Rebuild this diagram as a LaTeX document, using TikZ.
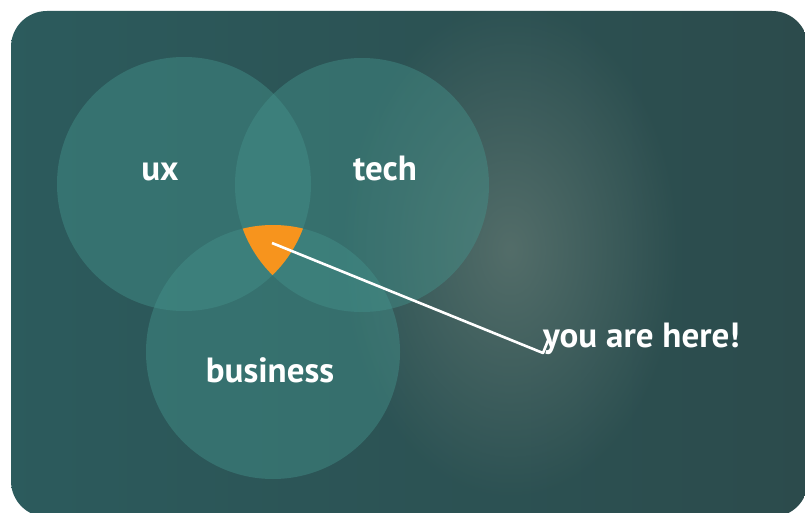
\documentclass[tikz,border=0pt]{standalone}
\usepackage{fontspec}
\setmainfont{PT Sans}
\usetikzlibrary{fadings}

\definecolor{bgleft}{HTML}{2C5B5D}
\definecolor{bgright}{HTML}{2C4B4C}
\definecolor{glow}{HTML}{536D69}
\definecolor{ring}{HTML}{44928B}
\definecolor{spot}{HTML}{F7941D}
\tikzfading[name=glowfade, inner color=transparent!0, outer color=transparent!100]
\tikzset{
  set/.style={circle, minimum size=254pt, inner sep=0pt, fill=ring, fill opacity=0.45},
  setlabel/.style={text=white, anchor=base, font=\bfseries\fontsize{35}{40}\selectfont},
}

\begin{document}
\begin{tikzpicture}[x=1pt,y=-1pt]
  \useasboundingbox (0,0) rectangle (805,513);
  \begin{scope}
    \clip[rounded corners=36pt] (11,11) rectangle (808,517);
    \shade[left color=bgleft, right color=bgright] (0,0) rectangle (808,517);
    \fill[glow, path fading=glowfade] (510,250) ellipse (170pt and 250pt);
  \end{scope}

  \node[set] (ux) at (184,184) {};
  \node[set] (tech) at (362,185) {};
  \node[set] (biz) at (273,352) {};
  \begin{scope}
    \clip (ux.center) circle (127pt);
    \clip (tech.center) circle (127pt);
    \fill[spot] (biz.center) circle (127pt);
  \end{scope}

  \node[setlabel] (uxtext) at (160,180) {ux};
  \node[setlabel] (techtext) at (385,180) {tech};
  \node[setlabel] (biztext) at (270,382) {business};
  \node[setlabel, anchor=base west, inner sep=0pt] (you) at (543,347) {you are here!};

  \coordinate (here) at (272,243);
  \coordinate (kink) at (543,353);
  \coordinate (tick) at (549,338);
  \draw[white, line width=2.6pt, line join=round] (here) -- (kink) -- (tick);
\end{tikzpicture}
\end{document}
